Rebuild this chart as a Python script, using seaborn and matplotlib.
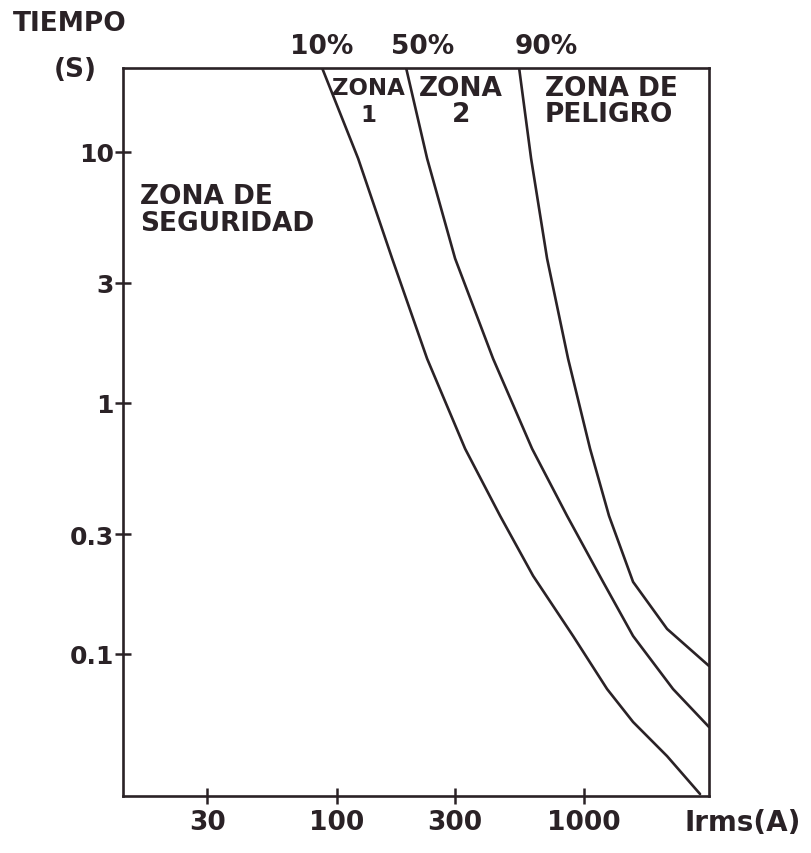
import matplotlib
matplotlib.use("Agg")
import matplotlib.pyplot as plt
import pandas as pd
import seaborn as sns

# ---- data ----
curve_labels = ["10%", "50%", "90%"]

current_10 = [87.4, 122.2, 167.7, 232.2, 330.7, 458.0, 622.6, 903.2, 1239.5, 1578.6, 2166, 2944]
time_10 = [21.5, 9.38, 3.75, 1.497, 0.656, 0.3546, 0.2046, 0.1179, 0.0725, 0.0536, 0.0392, 0.0277]

current_50 = [191.0, 232.2, 301.3, 429.1, 616.8, 854.1, 1194, 1578.6, 2290, 3200]
time_50 = [21.5, 9.38, 3.75, 1.497, 0.656, 0.3546, 0.1936, 0.1179, 0.0725, 0.0512]

current_90 = [546.6, 611.1, 709.1, 862.2, 1058, 1262, 1578.6, 2166, 3200]
time_90 = [21.5, 9.38, 3.75, 1.497, 0.656, 0.3546, 0.1936, 0.1258, 0.0896]

x_ticks = [30, 100, 300, 1000]
x_ticklabels = ["30", "100", "300", "1000"]
y_ticks = [0.1, 0.3, 1, 3, 10]
y_ticklabels = ["0.1", "0.3", "1", "3", "10"]

zone_labels = ["ZONA DE\nSEGURIDAD", "ZONA\n1", "ZONA\n2", "ZONA DE\nPELIGRO"]

# ---- build table ----
frames = []
for lab, xs, ys in zip(curve_labels,
                       [current_10, current_50, current_90],
                       [time_10, time_50, time_90]):
    frames.append(pd.DataFrame({"I": xs, "t": ys, "curva": lab}))
df = pd.concat(frames, ignore_index=True)

sns.set_theme(style="white")
plt.rcParams["font.family"] = ["DejaVu Sans"]

INK = "#2a2226"
W, H = 811, 854
fig = plt.figure(figsize=(W / 100, H / 100), dpi=100, facecolor="white")
ax = fig.add_axes([123 / W, 1 - 797 / H, (709 - 123) / W, (797 - 69) / H])
ax.set_facecolor("white")

for lab in curve_labels:
    sub = df[df["curva"] == lab]
    sns.lineplot(data=sub, x="I", y="t", sort=False, estimator=None,
                 color=INK, linewidth=1.9, ax=ax, legend=False)
for line in ax.get_lines():
    line.set_solid_joinstyle("round")
    line.set_solid_capstyle("round")

ax.set_xscale("log")
ax.set_yscale("log")
ax.set_xlim(13.7, 3200)
ax.set_ylim(0.0272, 21.5)

ax.set_xticks(x_ticks)
ax.set_xticklabels(x_ticklabels, fontweight="bold", fontsize=19)
ax.set_yticks(y_ticks)
ax.set_yticklabels(y_ticklabels, fontweight="bold", fontsize=18)
ax.minorticks_off()
ax.tick_params(axis="both", which="major", direction="inout", length=11,
               width=1.8, color=INK, labelcolor=INK,
               bottom=True, left=True)
ax.tick_params(axis="x", pad=4)
ax.tick_params(axis="y", pad=1)
ax.set_xlabel("")
ax.set_ylabel("")

for s in ax.spines.values():
    s.set_visible(True)
    s.set_color(INK)
    s.set_linewidth(1.9)

def ftext(x, y, s, **kw):
    fig.text(x / W, 1 - y / H, s, color=INK, fontweight="bold", **kw)

ftext(70, 24, "TIEMPO", fontsize=19, ha="center", va="center")
ftext(75, 70, "(S)", fontsize=19, ha="center", va="center")
ftext(743, 823, "Irms(A)", fontsize=20, ha="center", va="center")

for lab, xc in zip(curve_labels, [322, 423, 546]):
    ftext(xc, 47, lab, fontsize=19, ha="center", va="center")

ftext(140, 211, zone_labels[0], fontsize=19, ha="left", va="center", linespacing=1.05)
ftext(368, 102, zone_labels[1], fontsize=16.5, ha="center", va="center", linespacing=1.2)
ftext(461, 102, zone_labels[2], fontsize=19, ha="center", va="center", linespacing=1.05)
ftext(545, 102, zone_labels[3], fontsize=19, ha="left", va="center", linespacing=1.05)

fig.savefig("out.png", dpi=100, facecolor="white")
